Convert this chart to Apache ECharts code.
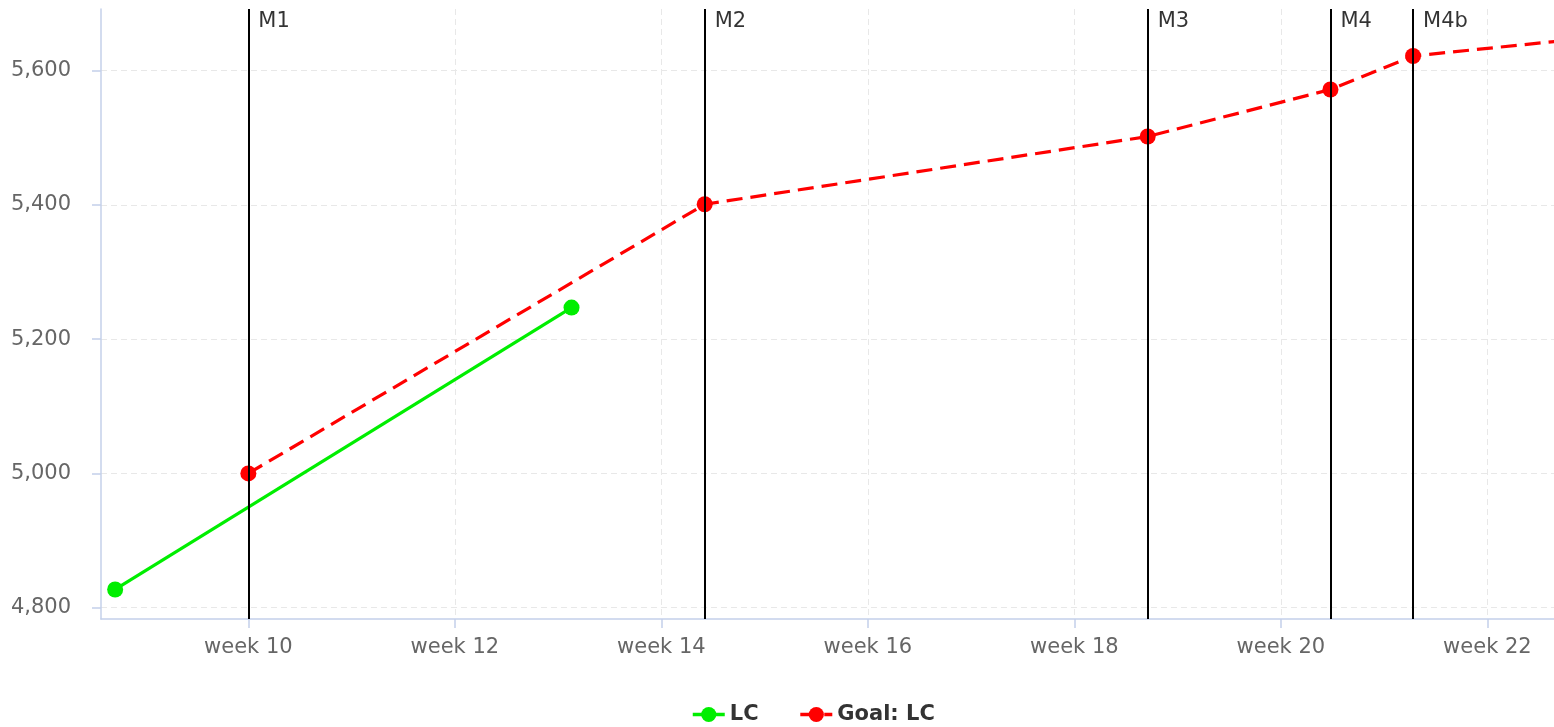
<!DOCTYPE html>
<html>
<head>
<meta charset="utf-8">
<script src="https://cdn.jsdelivr.net/npm/echarts@6/dist/echarts.min.js"></script>
<style>
  html, body { margin: 0; padding: 0; background: #ffffff; }
  #chart { width: 1554px; height: 727px; }
</style>
</head>
<body>
<div id="chart"></div>
<script>
// Measured LC values and the planned goal curve, by (fractional) week
const lcWeeks = [8.71, 13.13];
const lcValues = [4827, 5247];

const goalWeeks = [10, 14.42, 18.71, 20.48, 21.28, 23];
const goalValues = [5000, 5401, 5502, 5572, 5622, 5649];

// Milestones drawn as vertical lines
const milestoneNames = ['M1', 'M2', 'M3', 'M4', 'M4b'];
const milestoneWeeks = [10, 14.42, 18.71, 20.48, 21.28];

// Axis ranges and tick labels
const weekMin = 8.573, weekMax = 22.645;
const valueMin = 4783, valueMax = 5692;
const weekTicks = [10, 12, 14, 16, 18, 20, 22];
const valueTicks = [4800, 5000, 5200, 5400, 5600];

const FONT = '"DejaVu Sans", Verdana, sans-serif';
const AXIS_COLOR = '#c4d0ea';
const GRID_COLOR = '#e8e8e8';

const zip = (xs, ys) => xs.map((x, i) => [x, ys[i]]);

const chart = echarts.init(document.getElementById('chart'), null, { renderer: 'canvas' });

chart.setOption({
  animation: false,
  backgroundColor: '#ffffff',
  grid: { left: 101, right: 0, top: 9, bottom: 108, containLabel: false },
  legend: {
    data: ['LC', 'Goal: LC'],
    left: 686,
    top: 699,
    itemWidth: 32,
    itemHeight: 19,
    itemGap: 40,
    lineStyle: { width: 3.5 },
    textStyle: { fontFamily: FONT, fontSize: 21, fontWeight: 'bold', color: '#333333' }
  },
  xAxis: {
    type: 'value',
    min: weekMin,
    max: weekMax,
    axisLine: { show: true, lineStyle: { color: AXIS_COLOR, width: 1.5 } },
    axisTick: { show: true, length: 9, customValues: weekTicks, lineStyle: { color: AXIS_COLOR, width: 1.5 } },
    axisLabel: {
      customValues: weekTicks,
      margin: 18,
      fontFamily: FONT, fontSize: 21, color: '#666666',
      formatter: v => 'week ' + v
    },
    splitLine: { show: true, lineStyle: { color: GRID_COLOR, type: [6, 4], width: 1 } }
  },
  yAxis: {
    type: 'value',
    min: valueMin,
    max: valueMax,
    axisLine: { show: true, lineStyle: { color: AXIS_COLOR, width: 1.5 } },
    axisTick: { show: true, length: 9, customValues: valueTicks, lineStyle: { color: AXIS_COLOR, width: 1.5 } },
    axisLabel: {
      customValues: valueTicks,
      margin: 30,
      fontFamily: FONT, fontSize: 21, color: '#666666',
      formatter: v => Number(v).toLocaleString('en-US')
    },
    splitLine: { show: true, lineStyle: { color: GRID_COLOR, type: [6, 4], width: 1 } }
  },
  series: [
    {
      name: 'Goal: LC',
      type: 'line',
      data: zip(goalWeeks, goalValues),
      clip: true,
      z: 3,
      symbol: 'circle',
      symbolSize: 16,
      showAllSymbol: true,
      itemStyle: { color: '#ff0000' },
      lineStyle: { color: '#ff0000', width: 3.2, type: [16, 8] },
      markLine: {
        silent: true,
        symbol: ['none', 'none'],
        label: { show: false },
        lineStyle: { color: '#000000', width: 2, type: 'solid' },
        data: milestoneWeeks.map(w => ({ xAxis: w }))
      }
    },
    {
      name: 'LC',
      type: 'line',
      data: zip(lcWeeks, lcValues),
      z: 4,
      symbol: 'circle',
      symbolSize: 16,
      itemStyle: { color: '#00ee00' },
      lineStyle: { color: '#00ee00', width: 3.2 }
    },
    {
      name: 'milestones',
      type: 'scatter',
      silent: true,
      clip: false,
      symbolSize: 0,
      data: milestoneWeeks.map((w, i) => ({ value: [w, valueMax], name: milestoneNames[i] })),
      label: {
        show: true,
        position: 'right',
        distance: 10,
        offset: [0, 13],
        formatter: p => p.name,
        fontFamily: FONT, fontSize: 21, color: '#000000'
      }
    }
  ]
});
</script>
</body>
</html>
